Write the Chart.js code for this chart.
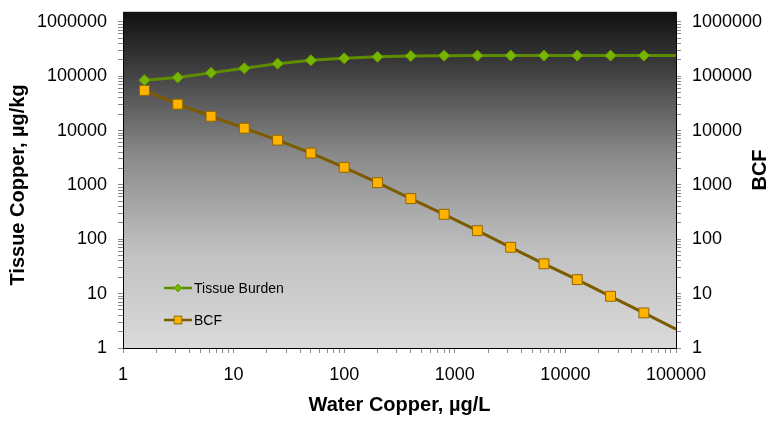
<!DOCTYPE html>
<html>
<head>
<meta charset="utf-8">
<script src="https://cdn.jsdelivr.net/npm/chart.js@4/dist/chart.umd.min.js"></script>
<style>
  html, body { margin: 0; padding: 0; background: #fff; }
  canvas { display: block; }
</style>
</head>
<body>
<canvas id="chart" width="770" height="421"></canvas>
<script>
const waterCopper = [1.5625, 3.125, 6.25, 12.5, 25, 50, 100, 200, 400, 800, 1600, 3200, 6400, 12800, 25600, 51200, 100000];
const tissueBurden = [84300, 94500, 115000, 139500, 170000, 196000, 213000, 227000, 235000, 238000, 239000, 239000, 239000, 239000, 239000, 239000, 239000];
const bcf = [54600, 30500, 18300, 11040, 6660, 3850, 2110, 1100, 561, 288, 144, 71.2, 35.4, 18.1, 8.93, 4.42, 2.23];

const xTickLabels = ['1', '10', '100', '1000', '10000', '100000'];
const yTickLabels = ['1', '10', '100', '1000', '10000', '100000', '1000000'];

const FONT = 'Liberation Sans, Arial, Helvetica, sans-serif';
Chart.defaults.font.family = FONT;
Chart.defaults.color = '#000';

// every decade gets its 2..9 minor ticks, only the decades are labelled
function logTicks(labels) {
  const values = [];
  labels.forEach((label, i) => {
    const base = Number(label);
    values.push(base);
    if (i < labels.length - 1) {
      for (let k = 2; k <= 9; k++) values.push(k * base);
    }
  });
  return values.map((v) => ({ value: v }));
}

function axisOptions(labels, extra) {
  return Object.assign({
    type: 'logarithmic',
    min: Number(labels[0]),
    max: Number(labels[labels.length - 1]),
    afterBuildTicks: (scale) => { scale.ticks = logTicks(labels); },
    ticks: {
      autoSkip: false,
      maxRotation: 0,
      font: { size: 18 },
      padding: 11,
      callback: (value) => (labels.includes(String(value)) ? String(value) : ''),
    },
    grid: { drawOnChartArea: false, drawTicks: true, tickLength: 5, color: '#8a8a8a' },
    border: { display: true, color: '#000', width: 1 },
  }, extra);
}

const plotBackground = {
  id: 'plotBackground',
  beforeDraw(chart) {
    const { ctx, chartArea: a } = chart;
    const top = a.top - 10;
    const g = ctx.createLinearGradient(0, top, 0, a.bottom);
    g.addColorStop(0, '#111111');
    g.addColorStop(0.12, '#303030');
    g.addColorStop(0.27, '#5c5c5c');
    g.addColorStop(0.42, '#888888');
    g.addColorStop(0.71, '#c0c0c0');
    g.addColorStop(1, '#dadada');
    ctx.save();
    ctx.fillStyle = g;
    ctx.fillRect(a.left, top, a.right - a.left + 1, a.bottom - top);
    ctx.restore();
  },
};

const insideLegend = {
  id: 'insideLegend',
  afterDatasetsDraw(chart) {
    const { ctx, chartArea: a } = chart;
    const rows = [a.bottom - 60, a.bottom - 28];
    ctx.save();
    chart.data.datasets.forEach((ds, i) => {
      const y = rows[i];
      const x0 = a.left + 41;
      ctx.strokeStyle = ds.borderColor;
      ctx.lineWidth = 2.5;
      ctx.beginPath();
      ctx.moveTo(x0, y);
      ctx.lineTo(x0 + 28, y);
      ctx.stroke();
      ctx.fillStyle = ds.pointBackgroundColor;
      ctx.strokeStyle = ds.pointBorderColor;
      ctx.lineWidth = 1;
      Chart.helpers.drawPoint(ctx, {
        pointStyle: ds.pointStyle,
        radius: ds.legendRadius,
        borderWidth: 1,
        rotation: 0,
      }, x0 + 14, y);
      ctx.fillStyle = '#000';
      ctx.font = '14px ' + FONT;
      ctx.textBaseline = 'middle';
      ctx.textAlign = 'left';
      ctx.fillText(ds.label, x0 + 30, y + 1);
    });
    ctx.restore();
  },
};

// right title reads bottom-to-top like the left one
const rightTitle = {
  id: 'rightTitle',
  afterDraw(chart) {
    const { ctx } = chart;
    ctx.save();
    ctx.translate(760, 170);
    ctx.rotate(-Math.PI / 2);
    ctx.font = 'bold 20px ' + FONT;
    ctx.fillStyle = '#000';
    ctx.textAlign = 'center';
    ctx.textBaseline = 'middle';
    ctx.fillText('BCF', 0, 0);
    ctx.restore();
  },
};

function hideLast(n) {
  return (ctx) => (ctx.dataIndex === waterCopper.length - 1 ? 0 : n);
}

new Chart(document.getElementById('chart'), {
  type: 'line',
  data: {
    datasets: [
      {
        label: 'Tissue Burden',
        data: waterCopper.map((w, i) => ({ x: w, y: tissueBurden[i] })),
        yAxisID: 'y',
        borderColor: '#5e8c00',
        borderWidth: 3,
        pointStyle: 'rectRot',
        pointRadius: hideLast(5.5),
        pointBackgroundColor: '#76b500',
        pointBorderColor: '#6a9e00',
        pointBorderWidth: 1,
        legendRadius: 4,
        tension: 0,
      },
      {
        label: 'BCF',
        data: waterCopper.map((w, i) => ({ x: w, y: bcf[i] })),
        yAxisID: 'y2',
        borderColor: '#7d5c00',
        borderWidth: 3,
        pointStyle: 'rect',
        pointRadius: hideLast(7),
        pointBackgroundColor: '#ffb300',
        pointBorderColor: '#8f6600',
        pointBorderWidth: 1,
        legendRadius: 5.5,
        tension: 0,
      },
    ],
  },
  options: {
    responsive: false,
    animation: false,
    devicePixelRatio: 1,
    layout: { padding: { top: 19, left: 0, right: 0, bottom: 0 } },
    plugins: {
      legend: { display: false },
      tooltip: { enabled: false },
    },
    scales: {
      x: axisOptions(xTickLabels, {
        position: 'bottom',
        afterFit: (scale) => { scale.height = 73; },
        title: {
          display: true,
          text: 'Water Copper, µg/L',
          font: { size: 20, weight: 'bold' },
          padding: { top: 0, bottom: 4 },
        },
      }),
      y: axisOptions(yTickLabels, {
        position: 'left',
        afterFit: (scale) => { scale.width = 123; },
        title: {
          display: true,
          text: 'Tissue Copper, µg/kg',
          font: { size: 20, weight: 'bold' },
          padding: { top: 6, bottom: 0 },
        },
      }),
      y2: axisOptions(yTickLabels, {
        position: 'right',
        afterFit: (scale) => { scale.width = 94; },
      }),
    },
  },
  plugins: [plotBackground, insideLegend, rightTitle],
});
</script>
</body>
</html>
